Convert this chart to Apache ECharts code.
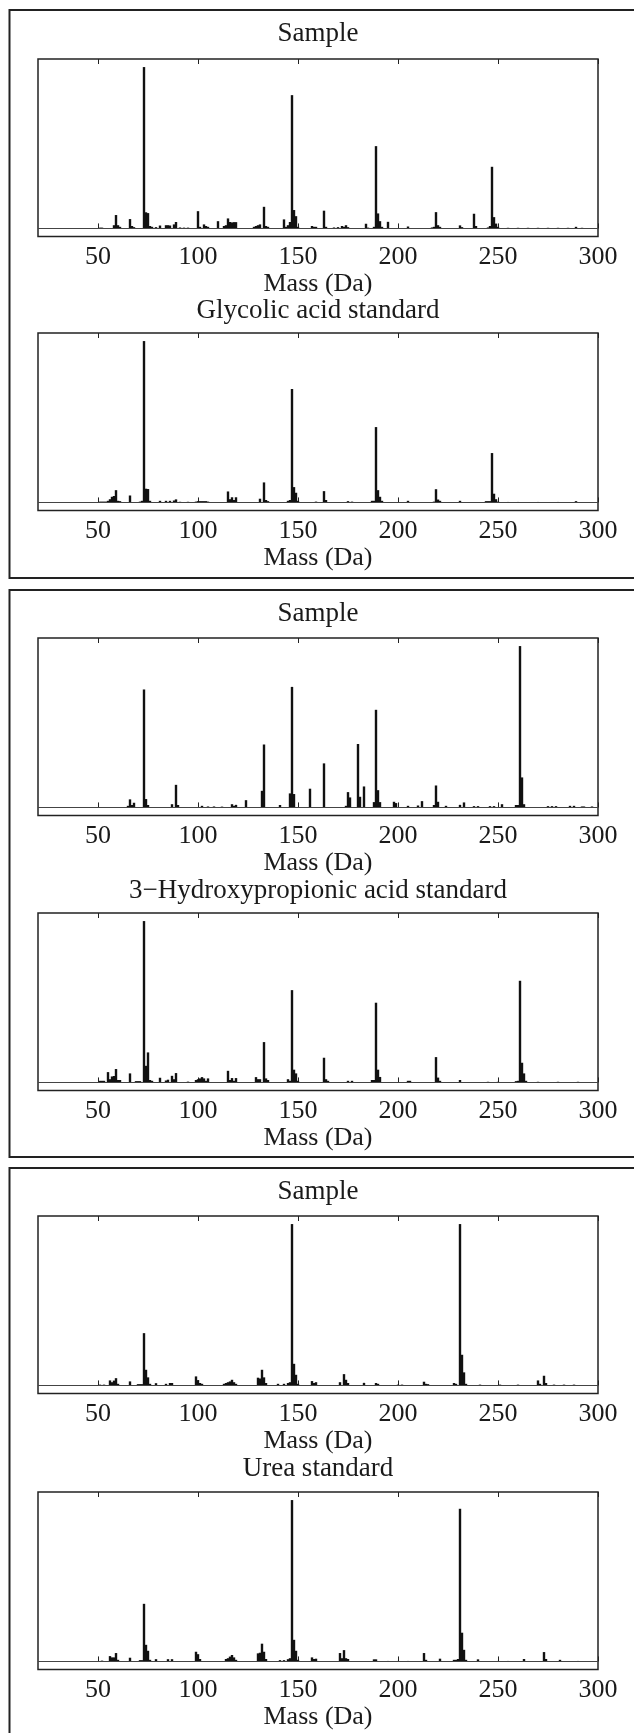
<!DOCTYPE html>
<html><head><meta charset="utf-8">
<script src="https://cdn.jsdelivr.net/npm/echarts@6/dist/echarts.min.js"></script>
<style>html,body{margin:0;padding:0;background:#fff}#c{width:634px;height:1733px}</style>
</head><body><div id="c"></div>
<script>
// ---- data ----
const tickValues = [50, 100, 150, 200, 250, 300];
const titles = ['Sample', 'Glycolic acid standard', 'Sample', '3\u2212Hydroxypropionic acid standard', 'Sample', 'Urea standard'];
const axisName = 'Mass (Da)';

const gaSampleMass = [51,52,58,59,60,61,66,67,68,73,74,75,76,77,79,81,84,85,86,88,89,91,93,95,100,101,103,104,105,110,113,114,115,116,117,118,119,128,129,130,131,133,134,135,143,144,145,146,147,148,149,150,157,158,159,163,164,168,170,172,173,174,175,184,185,188,189,190,191,192,195,205,217,218,219,220,221,231,232,238,239,245,246,247,248,249,250,255,260,265,270,275,280,285,289,292];
const gaSampleInt  = [0.5,0.5,2,8.3,2,1,5.8,1.5,0.8,100,10,9.5,1.5,1,0.8,1.8,2,2,1.8,2.5,4,0.6,0.5,0.5,10.7,1,2.5,1.5,1,4.5,1.5,2,6.2,4,3.7,3.9,3.9,1,1.5,2,2.5,13.4,1.5,1,5.6,1,2,4,82.6,11.4,7.6,1,1.5,1,1,11,1,0.6,0.8,1.5,1,2,0.8,2.9,0.5,1,51,9.3,4.5,1,4.1,1.2,0.6,1,10.1,2,1,1.9,0.8,9.1,1.5,0.6,1.5,38.2,7,3,1,0.4,0.4,0.4,0.4,0.4,0.4,0.4,1,0.4];

const gaStdMass = [51,52,53,54,55,56,57,58,59,60,61,66,71,72,73,74,75,76,81,84,86,88,89,91,95,99,100,101,102,103,104,105,115,116,117,118,119,131,133,134,135,145,146,147,148,149,150,159,163,164,175,177,187,188,189,190,191,192,205,218,219,220,221,231,244,245,246,247,248,249,250,255,260,270,280,289];
const gaStdInt  = [0.5,0.5,0.5,0.5,1,2,3.5,4,7.6,1,0.8,4.3,0.5,1,100,8.5,8.3,1,1,1,1,1.2,1.9,0.4,0.4,0.5,0.8,0.8,0.8,0.8,0.8,0.5,6.8,2,3.2,1.5,3.2,2.3,12.4,1.5,0.8,1,1.5,70.3,9.5,6,1,0.5,7,1.5,0.8,0.5,1,1,46.7,7.6,3.5,1,1,0.5,8.2,1.8,1,1,0.8,0.8,0.8,30.6,5.4,2,0.5,0.3,0.3,0.3,0.3,0.8];

const hpSampleMass = [65,66,67,68,73,74,75,87,89,90,102,105,108,112,117,118,119,124,132,133,141,146,147,148,156,163,174,175,176,180,181,183,188,189,190,191,198,199,205,210,212,218,219,220,224,231,233,238,240,246,248,252,259,260,261,262,263,275,277,279,286,288,292,293,297];
const hpSampleInt  = [1,5,1.5,2.9,73.1,5.2,1.5,2,14,1.5,1,0.6,0.6,0.5,2,1,1.6,4.5,10.3,39,1.5,8.7,74.7,8.3,11.6,27.3,1,9.5,6.2,39.3,6.6,13,3.3,60.5,10.7,3.3,3.5,2.7,1,1.2,3.9,1.5,13.6,3.5,1,1.6,3.1,0.8,0.8,0.8,0.8,2,1.5,1.5,100,18.6,2,0.8,0.8,0.8,1,1,0.6,0.6,0.6];

const hpStdMass = [51,52,53,55,56,57,58,59,60,61,66,69,70,71,73,74,75,76,77,81,84,85,87,88,89,95,99,100,101,102,103,104,105,115,116,117,118,119,129,130,131,133,134,135,145,146,147,148,149,150,163,164,165,175,177,187,188,189,190,191,205,206,219,220,221,231,245,250,259,260,261,262,263,264,270,280,290];
const hpStdInt  = [1,1,1,6.4,2,3.7,4,8.3,1.5,1.5,5.6,0.8,0.8,0.8,100,10.3,18.6,1.5,1,2.9,1.2,1.7,4.1,2,5.8,0.5,1.5,2,2.5,3.3,2.5,1,2.5,7.2,1.5,2.7,1,2.7,3.3,2,2,25,2.5,1.5,2,1,57.2,7.9,5.6,1,15.3,2,1,1,1,1.5,1.5,49.4,7.9,3.4,1,1,15.7,3,1,1.5,0.4,0.4,0.8,1,63,12.2,5.6,1,0.4,0.4,0.4];

const ureaSampleMass = [51,53,56,57,58,59,60,66,70,71,72,73,74,75,76,79,84,86,87,99,100,101,102,113,114,115,116,117,118,119,130,131,132,133,134,140,143,145,146,147,148,149,150,157,158,159,171,173,174,175,183,189,190,200,202,213,214,215,228,229,231,232,233,234,241,251,260,270,271,273,274,278,283,288];
const ureaSampleInt  = [0.5,0.5,3.1,2,3,4.5,1,2.5,0.8,0.8,0.8,32.4,9.7,5,1,1.4,1,1.5,1.5,5.6,3.3,1.5,1,1,1.5,2,2.5,3.5,2,1,4.8,4.3,9.7,5,1.5,1,1,1.5,2,100,13.4,6.6,1,2.7,1.5,2,2,7,3.5,1.5,1.6,1.5,1,0.5,0.5,2.3,1,0.8,1.5,1,100,19,8.1,1,0.5,0.5,0.5,3.1,1,6,1.5,0.5,0.5,0.5];

const ureaStdMass = [52,56,57,58,59,60,66,71,72,73,74,75,76,79,85,87,99,100,101,114,115,116,117,118,119,130,131,132,133,134,141,143,145,146,147,148,149,150,157,158,159,171,172,173,174,175,188,189,195,200,205,213,214,221,228,229,230,231,232,233,234,240,250,255,263,273,274,281,290];
const ureaStdInt  = [0.5,3.3,2.5,2.5,5.2,1,2.3,0.8,0.8,35.7,10.3,6.6,1,1.4,1.4,1.4,6,4.5,1.5,1.5,2,3,4,2.5,1,5,5.4,11,6,1.5,0.8,0.8,1.4,2,100,13.4,6.6,1,2.5,1.5,1.7,5.2,2,7,2,1.5,1.3,1.3,0.3,0.3,0.3,5.2,1,1.7,1,1,1.5,94.6,17.8,7.2,1,1.3,0.3,0.3,1.5,5.8,1.5,1,0.3];

// ---- build ----
const massSets = [gaSampleMass, gaStdMass, hpSampleMass, hpStdMass, ureaSampleMass, ureaStdMass];
const intSets  = [gaSampleInt, gaStdInt, hpSampleInt, hpStdInt, ureaSampleInt, ureaStdInt];

const FONT = 'Liberation Serif';
const TXT = '#1a1a1a';
const gridTops = [59, 333, 638, 913, 1216, 1492];
const gridH = 177.5;
const titleTops = [20, 297, 600, 877, 1178, 1455];

const option = {
  animation: false,
  backgroundColor: '#fff',
  title: titles.map((t, i) => ({
    text: t, left: 318, top: titleTops[i], textAlign: 'center', padding: 0,
    textStyle: { fontFamily: FONT, fontSize: 27, fontWeight: 'normal', color: TXT }
  })),
  grid: gridTops.map(t => ({
    left: 38, width: 560, top: t, height: gridH, show: true,
    borderColor: '#222', borderWidth: 1.5, backgroundColor: 'transparent'
  })),
  xAxis: [],
  yAxis: [],
  series: [],
  graphic: [
    { type: 'rect', shape: { x: 9.5, y: 10, width: 640, height: 568 }, style: { fill: 'none', stroke: '#222', lineWidth: 2 }, silent: true },
    { type: 'rect', shape: { x: 9.5, y: 590, width: 640, height: 567 }, style: { fill: 'none', stroke: '#222', lineWidth: 2 }, silent: true },
    { type: 'rect', shape: { x: 9.5, y: 1168, width: 640, height: 600 }, style: { fill: 'none', stroke: '#222', lineWidth: 2 }, silent: true }
  ]
};

for (let i = 0; i < 6; i++) {
  option.xAxis.push({
    type: 'value', gridIndex: i, position: 'bottom', min: 20, max: 300,
    axisLine: { show: false },
    axisTick: { show: true, inside: true, length: 5, customValues: tickValues, lineStyle: { color: '#222', width: 1 } },
    axisLabel: { show: true, margin: 8, customValues: tickValues, fontFamily: FONT, fontSize: 26, color: TXT },
    splitLine: { show: false },
    name: axisName, nameLocation: 'middle', nameGap: 32,
    nameTextStyle: { fontFamily: FONT, fontSize: 26, color: TXT }
  });
  option.xAxis.push({
    type: 'value', gridIndex: i, position: 'top', min: 20, max: 300,
    axisLine: { show: false },
    axisTick: { show: true, inside: true, length: 5, customValues: tickValues, lineStyle: { color: '#222', width: 1 } },
    axisLabel: { show: false },
    splitLine: { show: false }
  });
  option.yAxis.push({
    type: 'value', gridIndex: i, min: -5, max: 105,
    axisLine: { show: false }, axisTick: { show: false }, axisLabel: { show: false }, splitLine: { show: false }
  });
  const data = massSets[i].map((m, k) => [m, intSets[i][k]]);
  option.series.push({
    type: 'bar', xAxisIndex: 2 * i, yAxisIndex: i, data: data,
    barWidth: 2.4, itemStyle: { color: '#111' }, silent: true,
    markLine: {
      silent: true, symbol: ['none', 'none'], label: { show: false },
      lineStyle: { color: '#444', width: 1, type: 'solid' },
      data: [{ yAxis: 0 }]
    }
  });
}

const chart = echarts.init(document.getElementById('c'), null, { renderer: 'canvas' });
chart.setOption(option);
</script>
</body></html>
